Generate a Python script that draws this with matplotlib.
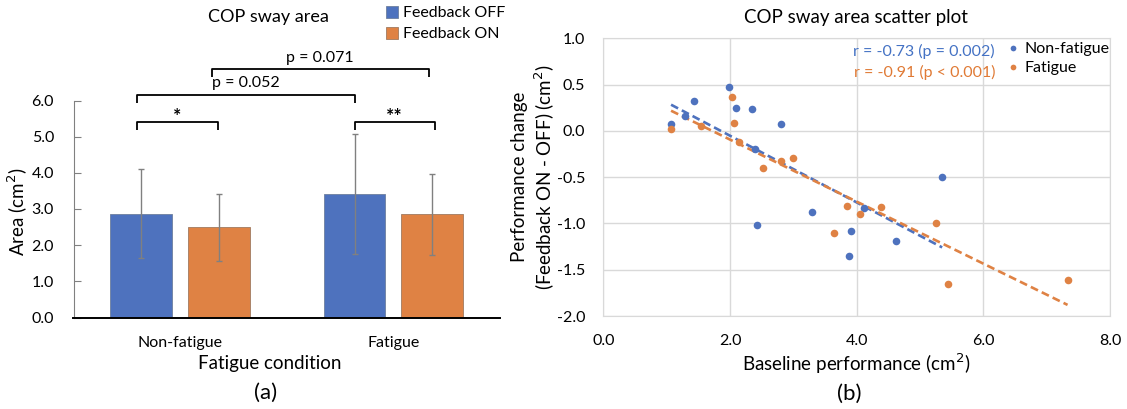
import numpy as np
import matplotlib.pyplot as plt
from matplotlib.patches import Patch

plt.rcParams['font.family'] = ['Lato', 'DejaVu Sans']

# ---- bar chart data ----
conditions = ['Non-fatigue', 'Fatigue']
area_off = [2.87, 3.41]
area_on = [2.49, 2.85]
sd_off = [1.23, 1.65]
sd_on = [0.92, 1.13]

# ---- scatter data ----
base_nf = [1.07, 1.29, 1.43, 1.99, 2.10, 2.34, 2.80, 2.39, 2.43, 3.29, 3.91, 3.88, 4.12, 4.62, 5.35]
chg_nf = [0.07, 0.16, 0.32, 0.47, 0.25, 0.24, 0.07, -0.20, -1.02, -0.88, -1.08, -1.35, -0.83, -1.19, -0.50]
base_f = [1.07, 1.55, 2.03, 2.06, 2.14, 2.52, 2.80, 2.99, 3.85, 3.65, 4.06, 4.38, 5.25, 5.45, 7.33]
chg_f = [0.02, 0.05, 0.37, 0.09, -0.12, -0.40, -0.33, -0.29, -0.81, -1.10, -0.90, -0.82, -0.99, -1.65, -1.61]

BLUE = '#4E72BE'
ORANGE = '#DF8244'
GRID = '#D9D9D9'

W, H = 1127, 409
fig = plt.figure(figsize=(W / 100, H / 100), dpi=100)


def fx(px):
    return px / W


def fy(py):
    return 1 - py / H


# ================= (a) bar chart =================
ax1 = fig.add_axes([fx(73.5), fy(317.5), fx(500 - 73.5), (317.5 - 100.5) / H])
x = np.arange(len(conditions))
bw = 0.289
off = 0.182
err_kw = dict(ecolor='#808080', elinewidth=1, capsize=2.5, capthick=1)
b_off = ax1.bar(x - off, area_off, bw, yerr=sd_off, color=BLUE, edgecolor='#6d7f9e',
                linewidth=0.6, error_kw=err_kw, label='Feedback OFF')
b_on = ax1.bar(x + off, area_on, bw, yerr=sd_on, color=ORANGE, edgecolor='#a07a60',
               linewidth=0.6, error_kw=err_kw, label='Feedback ON')
ax1.set_xlim(-0.5, 1.5)
ax1.set_ylim(0, 6)
ax1.set_yticks(np.arange(0, 6.01, 1.0))
ax1.set_yticklabels([f'{v:.1f}' for v in np.arange(0, 6.01, 1.0)], fontsize=11.5)
ax1.set_xticks(x)
ax1.set_xticklabels(conditions, fontsize=11.5)
ax1.tick_params(axis='x', length=0, pad=13)
ax1.tick_params(axis='y', direction='in', length=5, color='#808080', pad=14)
for s in ['top', 'right']:
    ax1.spines[s].set_visible(False)
ax1.spines['left'].set_color('#808080')
ax1.spines['bottom'].set_color('black')
ax1.spines['bottom'].set_linewidth(1.4)
ax1.spines['bottom'].set_zorder(5)


def bracket(ax, x0, x1, ytop, ybot, text, ty, tx, size=11.5, weight='normal'):
    ax.plot([x0, x0, x1, x1], [ybot, ytop, ytop, ybot], color='black', lw=1.3,
            clip_on=False, solid_capstyle='butt')
    ax.text(tx, ty, text, ha='center', va='center', fontsize=size, fontweight=weight,
            clip_on=False)


bracket(ax1, -0.202, 0.179, 5.405, 5.184, '*', 5.55, -0.013, 14, 'bold')
bracket(ax1, 0.818, 1.196, 5.405, 5.184, '**', 5.55, 1.005, 14, 'bold')
bracket(ax1, -0.202, 0.818, 6.16, 5.94, 'p = 0.052', 6.49, 0.309)
bracket(ax1, 0.149, 1.168, 6.87, 6.64, 'p = 0.071', 7.17, 0.653)

fig.text(fx(268), fy(17), 'COP sway area', ha='center', va='center', fontsize=13)
fig.text(fx(17.5), fy(212), 'Area (cm$^2$)', ha='center', va='center', rotation=90, fontsize=13.5)
fig.text(fx(270), fy(363), 'Fatigue condition', ha='center', va='center', fontsize=13.5)
fig.text(fx(266), fy(393), '(a)', ha='center', va='center', fontsize=16)

fig.legend(handles=[Patch(facecolor=BLUE, edgecolor='#6d7f9e', lw=0.6),
                    Patch(facecolor=ORANGE, edgecolor='#a07a60', lw=0.6)],
           labels=['Feedback OFF', 'Feedback ON'], loc='upper left',
           bbox_to_anchor=(fx(386), fy(6)), frameon=False, fontsize=11.5,
           handlelength=0.75, handleheight=0.75, handletextpad=0.3,
           labelspacing=0.4, borderpad=0, borderaxespad=0)

# ================= (b) scatter =================
ax2 = fig.add_axes([fx(603.3), fy(316), fx(1110 - 603.3), (316 - 38.3) / H])
sc_nf = ax2.scatter(base_nf, chg_nf, s=30, color=BLUE, zorder=3, linewidths=0)
sc_f = ax2.scatter(base_f, chg_f, s=30, color=ORANGE, zorder=3, linewidths=0)
for xs, ys, c in [(base_nf, chg_nf, BLUE), (base_f, chg_f, ORANGE)]:
    k, b = np.polyfit(xs, ys, 1)
    xx = np.array([min(xs), max(xs)])
    ax2.plot(xx, k * xx + b, color=c, lw=1.9, ls=(0, (3, 1.6)), zorder=2)
ax2.set_xlim(0, 8)
ax2.set_ylim(-2, 1)
ax2.set_xticks(np.arange(0, 8.01, 2))
ax2.set_xticklabels([f'{v:.1f}' for v in np.arange(0, 8.01, 2)], fontsize=11.5)
ax2.set_yticks(np.arange(-2, 1.01, 0.5))
ax2.set_yticklabels([f'{v:.1f}' for v in np.arange(-2, 1.01, 0.5)], fontsize=11.5)
ax2.tick_params(length=0, pad=13)
ax2.grid(True, color=GRID, lw=1)
ax2.set_axisbelow(True)
for s in ax2.spines.values():
    s.set_color(GRID)

fig.text(fx(856), fy(18), 'COP sway area scatter plot', ha='center', va='center', fontsize=13.5)
fig.text(fx(856), fy(364), 'Baseline performance (cm$^2$)', ha='center', va='center', fontsize=13.5)
fig.text(fx(849), fy(394), '(b)', ha='center', va='center', fontsize=16)
fig.text(fx(534), fy(177), 'Performance change\n(Feedback ON - OFF) (cm$^2$)', ha='center',
         va='center', rotation=90, fontsize=13.5, linespacing=1.25)

fig.text(fx(995), fy(51.7), 'r = -0.73 (p = 0.002)', ha='right', va='center', fontsize=11.5, color='#4472C4')
fig.text(fx(995), fy(72.7), 'r = -0.91 (p < 0.001)', ha='right', va='center', fontsize=11.5, color='#E07A35')
fig.legend(handles=[sc_nf, sc_f], labels=['Non-fatigue', 'Fatigue'], loc='upper left',
           bbox_to_anchor=(fx(1007), fy(41.5)), frameon=False, fontsize=11.5,
           handlelength=0.8, handletextpad=0.3, labelspacing=0.3, borderpad=0,
           borderaxespad=0, scatterpoints=1, markerscale=0.75)

fig.savefig('out.png', dpi=100)
